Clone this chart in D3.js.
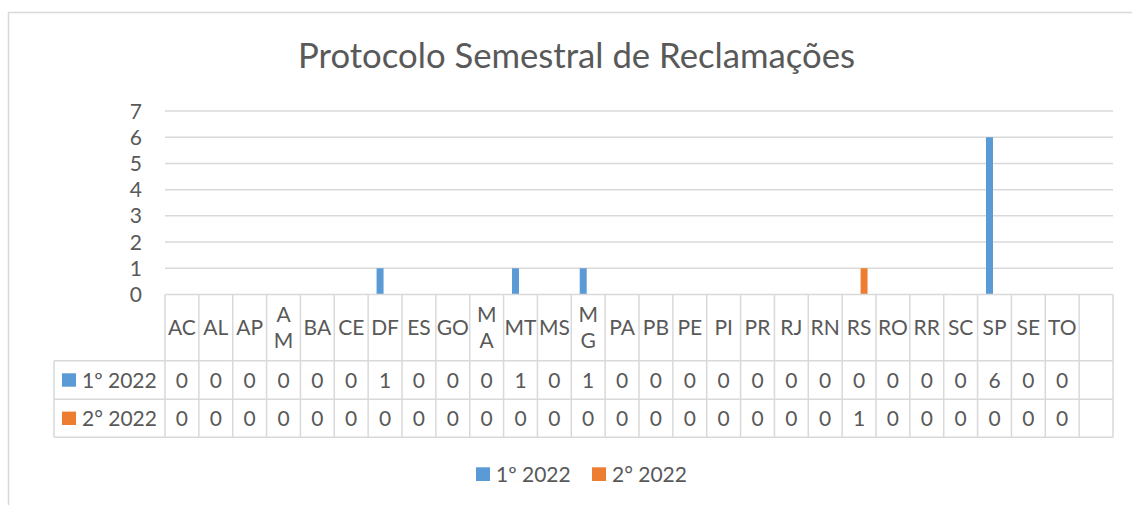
<!DOCTYPE html>
<html>
<head>
<meta charset="utf-8">
<script src="https://cdn.jsdelivr.net/npm/d3@7"></script>
<style>
  body { margin: 0; background: #fff; }
  text { font-family: Lato, "Open Sans", sans-serif; fill: #595959; }
</style>
</head>
<body>
<svg id="chart" width="1132" height="505"></svg>
<script>
var title = "Protocolo Semestral de Reclamações";
// last column is empty in the original sheet
var states = ["AC","AL","AP","AM","BA","CE","DF","ES","GO","MA","MT","MS","MG","PA","PB","PE","PI","PR","RJ","RN","RS","RO","RR","SC","SP","SE","TO",""];
var seriesNames = ["1º 2022", "2° 2022"];
var sem1 = [0,0,0,0,0,0,1,0,0,0,1,0,1,0,0,0,0,0,0,0,0,0,0,0,6,0,0,null];
var sem2 = [0,0,0,0,0,0,0,0,0,0,0,0,0,0,0,0,0,0,0,0,1,0,0,0,0,0,0,null];
var yTicks = [0,1,2,3,4,5,6,7];
var colors = ["#5b9bd5", "#ed7d31"];

var svg = d3.select("#chart");
var grid = "#d9d9d9";

// chart frame (runs off the right/bottom like the screenshot)
svg.append("rect")
  .attr("x", 8.5).attr("y", 12.5)
  .attr("width", 1140).attr("height", 520)
  .attr("fill", "none").attr("stroke", grid).attr("stroke-width", 1.5);

svg.append("text")
  .attr("x", 576.5).attr("y", 68)
  .attr("text-anchor", "middle")
  .attr("font-size", 35)
  .attr("textLength", 557).attr("lengthAdjust", "spacingAndGlyphs")
  .text(title);

var x = d3.scaleBand().domain(d3.range(states.length)).range([165, 1113]).padding(0);
var y = d3.scaleLinear().domain([0, 7]).range([294.5, 111]);
var bw = x.bandwidth();
var xs = d3.scaleBand().domain([0, 1]).range([bw / 2 - 8.5, bw / 2 + 8.5]).paddingInner(0.3);

// gridlines
svg.append("g").selectAll("line")
  .data(yTicks.slice(1))
  .enter().append("line")
  .attr("x1", 165).attr("x2", 1113)
  .attr("y1", function(d) { return y(d); })
  .attr("y2", function(d) { return y(d); })
  .attr("stroke", grid).attr("stroke-width", 1.5);

// y axis labels
svg.append("g").selectAll("text")
  .data(yTicks)
  .enter().append("text")
  .attr("x", 142)
  .attr("y", function(d) { return y(d); })
  .attr("dy", "0.36em")
  .attr("text-anchor", "end")
  .attr("font-size", 21)
  .text(function(d) { return d; });

// bars
var allSeries = [sem1, sem2];
allSeries.forEach(function(vals, si) {
  var pts = vals.map(function(v, i) { return {i: i, v: v}; }).filter(function(p) { return p.v; });
  svg.append("g").selectAll("rect")
    .data(pts)
    .enter().append("rect")
    .attr("x", function(p) { return x(p.i) + xs(si); })
    .attr("width", xs.bandwidth())
    .attr("y", function(p) { return y(p.v); })
    .attr("height", function(p) { return y(0) - y(p.v); })
    .attr("fill", colors[si]);
});

// data table
var rowY = [294.5, 360.7, 399.3, 437.3];
var tbl = svg.append("g").attr("stroke", grid).attr("stroke-width", 1.5);
tbl.append("line").attr("x1", 165).attr("x2", 1113).attr("y1", rowY[0]).attr("y2", rowY[0]);
rowY.slice(1).forEach(function(ry) {
  tbl.append("line").attr("x1", 54).attr("x2", 1113).attr("y1", ry).attr("y2", ry);
});
tbl.append("line").attr("x1", 54).attr("x2", 54).attr("y1", rowY[1]).attr("y2", rowY[3]);
d3.range(states.length + 1).forEach(function(i) {
  var cx = i < states.length ? x(i) : 1113;
  tbl.append("line").attr("x1", cx).attr("x2", cx).attr("y1", rowY[0]).attr("y2", rowY[3]);
});

// header labels, wrapped when wider than the cell
var hdr = svg.append("g").selectAll("text")
  .data(states)
  .enter().append("text")
  .attr("text-anchor", "middle")
  .attr("font-size", 21)
  .attr("x", function(d, i) { return x(i) + bw / 2; })
  .attr("y", (rowY[0] + rowY[1]) / 2)
  .attr("dy", "0.36em")
  .text(function(d) { return d; });
hdr.each(function(d, i) {
  var t = d3.select(this);
  if (this.getComputedTextLength() > bw - 1.5) {
    t.text(null).attr("dy", null);
    var cy = (rowY[0] + rowY[1]) / 2;
    d.split("").forEach(function(ch, k) {
      t.append("tspan")
        .attr("x", x(i) + bw / 2)
        .attr("y", cy + (k - 0.5) * 26)
        .attr("dy", "0.36em")
        .text(ch);
    });
  }
});

// series rows
allSeries.forEach(function(vals, si) {
  var cy = (rowY[si + 1] + rowY[si + 2]) / 2;
  svg.append("rect").attr("x", 62).attr("y", cy - 6.7).attr("width", 14).attr("height", 13.4).attr("fill", colors[si]);
  svg.append("text").attr("x", 82).attr("y", cy).attr("dy", "0.36em").attr("font-size", 21).text(seriesNames[si]);
  svg.append("g").selectAll("text")
    .data(vals)
    .enter().append("text")
    .attr("text-anchor", "middle")
    .attr("font-size", 21)
    .attr("x", function(d, i) { return x(i) + bw / 2; })
    .attr("y", cy)
    .attr("dy", "0.36em")
    .text(function(d) { return d === null ? "" : d; });
});

// legend
var legX = [476, 592];
seriesNames.forEach(function(name, si) {
  svg.append("rect").attr("x", legX[si]).attr("y", 467.3).attr("width", 14).attr("height", 13.7).attr("fill", colors[si]);
  svg.append("text").attr("x", legX[si] + 20).attr("y", 474).attr("dy", "0.36em").attr("font-size", 21).text(name);
});
</script>
</body>
</html>
